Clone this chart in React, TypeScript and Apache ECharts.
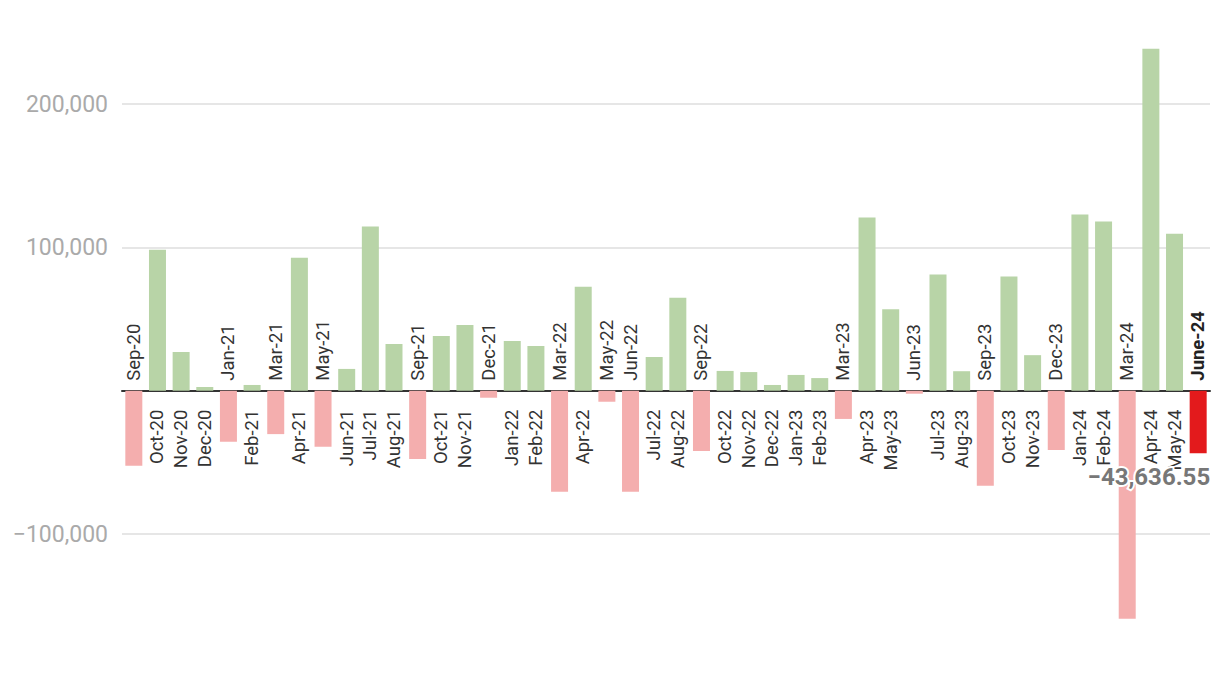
import React, { useEffect, useRef } from "react";
import * as echarts from "echarts";

const categories: string[] = [
  "Sep-20", "Oct-20", "Nov-20", "Dec-20",
  "Jan-21", "Feb-21", "Mar-21", "Apr-21", "May-21", "Jun-21", "Jul-21", "Aug-21", "Sep-21", "Oct-21", "Nov-21", "Dec-21",
  "Jan-22", "Feb-22", "Mar-22", "Apr-22", "May-22", "Jun-22", "Jul-22", "Aug-22", "Sep-22", "Oct-22", "Nov-22", "Dec-22",
  "Jan-23", "Feb-23", "Mar-23", "Apr-23", "May-23", "Jun-23", "Jul-23", "Aug-23", "Sep-23", "Oct-23", "Nov-23", "Dec-23",
  "Jan-24", "Feb-24", "Mar-24", "Apr-24", "May-24", "June-24",
];

const values: number[] = [
  -52400, 98400, 27000, 2600,
  -35700, 4000, -30300, 92800, -39200, 15200, 114500, 32600, -47700, 38200, 45900, -4900,
  34700, 31200, -70600, 72500, -7700, -70600, 23500, 64800, -42000, 13800, 13000, 4000,
  11000, 8800, -19700, 120800, 56800, -2100, 81100, 13600, -66400, 79700, 24800, -41300,
  122900, 118100, -159200, 238700, 109600, -43636.55,
];

const yTicks = { min: -200000, max: 300000, interval: 100000 };

const COLOR_POS = "#b8d4a7";
const COLOR_NEG = "#f4aeae";
const COLOR_LAST = "#e31a1c";
const FONT = "Roboto, 'Noto Sans', sans-serif";

const fmtSigned = (v: number, digits = 0) => {
  const s = Math.abs(v).toLocaleString("en-US", {
    minimumFractionDigits: digits,
    maximumFractionDigits: digits,
  });
  return v < 0 ? "\u2212" + s : s;
};

export default function App() {
  const ref = useRef<HTMLDivElement>(null);

  useEffect(() => {
    if (!ref.current) return;
    const chart = echarts.init(ref.current, undefined, { renderer: "svg" });
    const last = values.length - 1;

    chart.setOption({
      animation: false,
      backgroundColor: "#ffffff",
      grid: {
        left: 122,
        right: 10,
        top: -39.2,
        bottom: -3.3,
        containLabel: false,
        outerBoundsMode: "none",
      },
      xAxis: {
        type: "category",
        data: categories,
        axisLine: { show: true, onZero: true, lineStyle: { color: "#333333", width: 2 } },
        axisTick: { show: false },
        axisLabel: { show: false },
        splitLine: { show: false },
      },
      yAxis: {
        type: "value",
        min: yTicks.min,
        max: yTicks.max,
        interval: yTicks.interval,
        axisLine: { show: false },
        axisTick: { show: false },
        splitLine: { show: true, lineStyle: { color: "#e6e6e6", width: 2 } },
        axisLabel: {
          showMinLabel: false,
          showMaxLabel: false,
          margin: 14,
          color: "#aaaaaa",
          fontSize: 23,
          fontFamily: FONT,
          formatter: (v: number) => (v === 0 ? "" : fmtSigned(v)),
        },
      },
      series: [
        {
          type: "bar",
          z: 3,
          barWidth: 17,
          data: values.map((v, i) => {
            const item: any = {
              value: v,
              itemStyle: { color: i === last ? COLOR_LAST : v >= 0 ? COLOR_POS : COLOR_NEG },
            };
            if (i === last) {
              item.label = {
                show: true,
                position: "bottom",
                align: "right",
                offset: [12, 7],
                formatter: () => fmtSigned(v, 2),
                color: "#777777",
                fontSize: 24,
                fontWeight: "bold",
                fontFamily: FONT,
                textBorderColor: "#ffffff",
                textBorderWidth: 4,
              };
            }
            return item;
          }),
        },
        {
          type: "custom",
          z: 2,
          silent: true,
          data: values.map((v, i) => [i, v]),
          renderItem: (params: any, api: any) => {
            const i = api.value(0);
            const v = api.value(1);
            const p = api.coord([i, 0]);
            const neg = v < 0;
            return {
              type: "text",
              x: p[0],
              y: p[1] + (neg ? -10 : 19),
              rotation: Math.PI / 2,
              style: {
                text: categories[i],
                align: neg ? "left" : "right",
                verticalAlign: "middle",
                fontSize: 18.5,
                fontFamily: FONT,
                fontWeight: i === last ? "bold" : "normal",
                fill: i === last ? "#222222" : "#333333",
              },
            };
          },
        },
      ],
    });

    return () => chart.dispose();
  }, []);

  return (
    <div
      ref={ref}
      style={{ position: "absolute", left: 0, top: 0, width: 1220, height: 674 }}
    />
  );
}
